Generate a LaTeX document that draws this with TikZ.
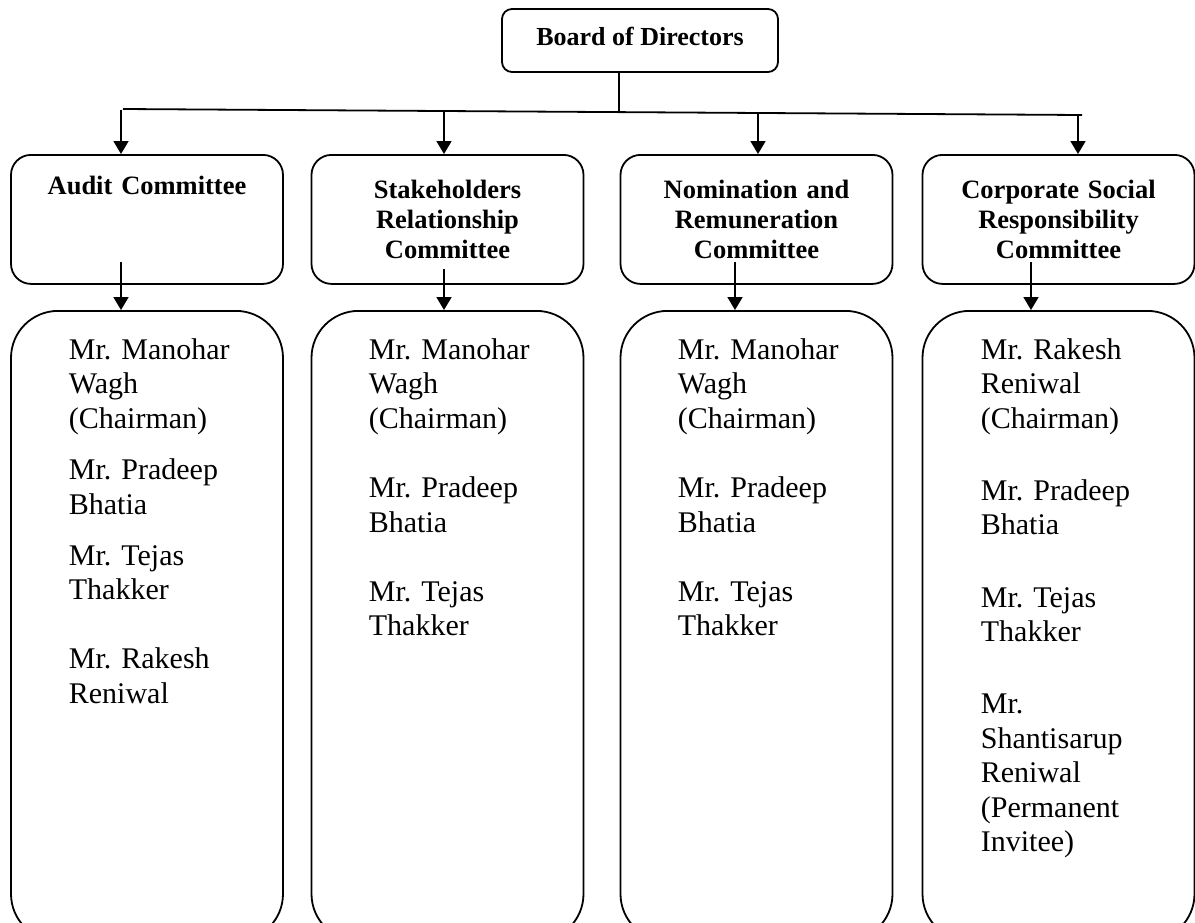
\documentclass[tikz,border=0pt]{standalone}
\usepackage{fontspec}
\setmainfont{Liberation Serif}
\usepackage{tikz}
\usetikzlibrary{arrows.meta,calc,positioning}
\frenchspacing

\begin{document}
\begin{tikzpicture}[x=1pt, y=-1pt,
    every node/.style={line width=1.8pt},
    board/.style={draw, rounded corners=10pt, minimum width=276pt, minimum height=63pt,
        text depth=8pt, font=\bfseries\fontsize{26}{30}\selectfont},
    cbox/.style={draw, rounded corners=20pt, minimum width=272pt, minimum height=129pt,
        text width=250pt, align=center, anchor=north, font=\bfseries\fontsize{26.5}{30}\selectfont},
    mbox/.style={draw, rounded corners=47pt, minimum width=272pt, minimum height=630pt, anchor=north},
    names/.style={anchor=base west, text width=200pt, align=left, inner sep=0pt,
        font=\fontsize{30}{34.5}\selectfont},
    arr/.style={->, >={Triangle[width=15pt,length=13pt]}, line width=1.8pt},
]
    \useasboundingbox (0,0) rectangle (1195,922);
    \clip (0,0) rectangle (1195,922);

    \node[board] (bod) at (640,40.5) {Board of Directors};

    % committees
    \node[cbox] (audit) at (147,154) {Audit Committee\\\strut\\\strut};
    \node[cbox] (src) at (447.5,154) {Stakeholders\\Relationship\\Committee};
    \node[cbox] (nrc) at (756.5,154) {Nomination and\\Remuneration\\Committee};
    \node[cbox] (csr) at (1058.5,154) {Corporate Social\\Responsibility\\Committee};

    % members
    \node[mbox] (auditm) at (147,310) {};
    \node[mbox] (srcm) at (447.5,310) {};
    \node[mbox] (nrcm) at (756.5,310) {};
    \node[mbox] (csrm) at (1058.5,310) {};

    \node[names] (auditn) at (68,359) {Mr. Manohar\\Wagh\\(Chairman)\\[17pt]Mr. Pradeep\\Bhatia\\[16.5pt]Mr. Tejas\\Thakker\\[34.5pt]Mr. Rakesh\\Reniwal};
    \node[names] (srcn) at (368,359) {Mr. Manohar\\Wagh\\(Chairman)\\[35pt]Mr. Pradeep\\Bhatia\\[34.5pt]Mr. Tejas\\Thakker};
    \node[names] (nrcn) at (677,359) {Mr. Manohar\\Wagh\\(Chairman)\\[35pt]Mr. Pradeep\\Bhatia\\[34.5pt]Mr. Tejas\\Thakker};
    \node[names] (csrn) at (980,359) {Mr. Rakesh\\Reniwal\\(Chairman)\\[37.5pt]Mr. Pradeep\\Bhatia\\[38pt]Mr. Tejas\\Thakker\\[37.5pt]Mr.\\Shantisarup\\Reniwal\\(Permanent\\Invitee)};

    % board to committees
    \coordinate (stem) at (619,112);
    \coordinate (busl) at (123,109);
    \coordinate (busr) at (1082,115);
    \draw[line width=1.8pt] (bod.south -| stem) -- (stem);
    \draw[line width=1.8pt] (busl) -- (busr);

    \coordinate (a1) at (121,110);
    \coordinate (a2) at (444,111.5);
    \coordinate (a3) at (758,113.5);
    \coordinate (a4) at (1078,115);
    \draw[arr] (a1) -- (a1 |- audit.north);
    \draw[arr] (a2) -- (a2 |- src.north);
    \draw[arr] (a3) -- (a3 |- nrc.north);
    \draw[arr] (a4) -- (a4 |- csr.north);

    % committees to members
    \coordinate (b1) at (121,262);
    \coordinate (b2) at (444,269);
    \coordinate (b3) at (735,262);
    \coordinate (b4) at (1031,262);
    \draw[arr] (b1) -- (b1 |- auditm.north);
    \draw[arr] (b2) -- (b2 |- srcm.north);
    \draw[arr] (b3) -- (b3 |- nrcm.north);
    \draw[arr] (b4) -- (b4 |- csrm.north);
\end{tikzpicture}
\end{document}
